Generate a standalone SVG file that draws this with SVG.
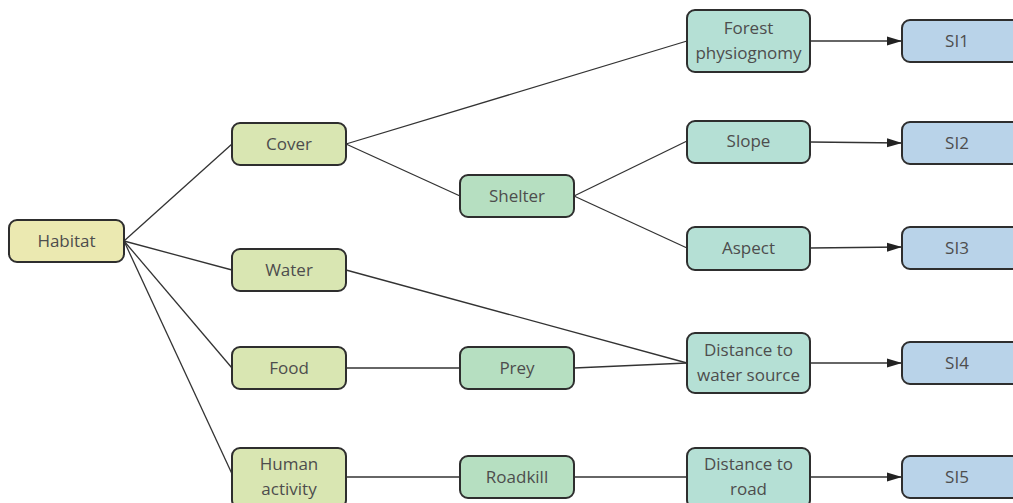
<svg xmlns="http://www.w3.org/2000/svg" width="1013" height="503" viewBox="0 0 1013 503">
<defs>
<marker id="arr" markerWidth="15" markerHeight="10" refX="15" refY="5" orient="auto" markerUnits="userSpaceOnUse">
<path d="M0,0.5 L15,5 L0,9.5 Z" fill="#222"/>
</marker>
<style>
.n rect{stroke:#2e2e2e;stroke-width:2}
.n text{font-family:"Open Sans","Noto Sans",sans-serif;font-size:17px;fill:#4d4d4d;text-anchor:middle}
.l1 rect{fill:#ebe9b1}
.l2 rect{fill:#d9e6b2}
.l3 rect{fill:#b6dfc1}
.l4 rect{fill:#b5e0d5}
.l5 rect{fill:#b9d3e9}
#edges line{stroke:#333;stroke-width:1.3;fill:none}
#edges line.a{marker-end:url(#arr)}
</style>
</defs>
<rect width="1013" height="503" fill="#fff"/>
<g id="edges">
<line x1="124" y1="241" x2="232" y2="144"/>
<line x1="124" y1="241" x2="232" y2="270"/>
<line x1="124" y1="241" x2="232" y2="368"/>
<line x1="124" y1="241" x2="233" y2="476"/>
<line x1="346" y1="144" x2="687" y2="41"/>
<line x1="346" y1="144" x2="460" y2="196"/>
<line x1="574" y1="196" x2="687" y2="141"/>
<line x1="574" y1="196" x2="687" y2="248"/>
<line x1="346" y1="270" x2="687" y2="363"/>
<line x1="346" y1="368" x2="460" y2="368"/>
<line x1="574" y1="368" x2="687" y2="363"/>
<line x1="346" y1="477" x2="460" y2="477"/>
<line x1="574" y1="477" x2="687" y2="477"/>
<line class="a" x1="810" y1="41" x2="902" y2="41"/>
<line class="a" x1="810" y1="142" x2="902" y2="143"/>
<line class="a" x1="810" y1="248" x2="902" y2="247"/>
<line class="a" x1="810" y1="363" x2="902" y2="363"/>
<line class="a" x1="810" y1="477" x2="902" y2="477"/>
</g>
<g id="habitat" class="n l1"><rect x="9" y="220" width="115" height="42" rx="8"/><text x="66.5" y="247">Habitat</text></g>
<g id="cover" class="n l2"><rect x="232" y="123" width="114" height="42" rx="8"/><text x="289" y="150">Cover</text></g>
<g id="water" class="n l2"><rect x="232" y="249" width="114" height="42" rx="8"/><text x="289" y="276">Water</text></g>
<g id="food" class="n l2"><rect x="232" y="347" width="114" height="42" rx="8"/><text x="289" y="374">Food</text></g>
<g id="human" class="n l2"><rect x="232" y="448" width="114" height="60" rx="8"/><text x="289" y="470">Human</text><text x="289" y="495">activity</text></g>
<g id="shelter" class="n l3"><rect x="460" y="175" width="114" height="42" rx="8"/><text x="517" y="202">Shelter</text></g>
<g id="prey" class="n l3"><rect x="460" y="347" width="114" height="42" rx="8"/><text x="517" y="374">Prey</text></g>
<g id="roadkill" class="n l3"><rect x="460" y="456" width="114" height="42" rx="8"/><text x="517" y="483">Roadkill</text></g>
<g id="forest" class="n l4"><rect x="687" y="10" width="123" height="62" rx="8"/><text x="748.5" y="34">Forest</text><text x="748.5" y="59">physiognomy</text></g>
<g id="slope" class="n l4"><rect x="687" y="121" width="123" height="42" rx="8"/><text x="748.5" y="147">Slope</text></g>
<g id="aspect" class="n l4"><rect x="687" y="227" width="123" height="43" rx="8"/><text x="748.5" y="254">Aspect</text></g>
<g id="dws" class="n l4"><rect x="687" y="333" width="123" height="60" rx="8"/><text x="748.5" y="356">Distance to</text><text x="748.5" y="381">water source</text></g>
<g id="dr" class="n l4"><rect x="687" y="448" width="123" height="60" rx="8"/><text x="748.5" y="470">Distance to</text><text x="748.5" y="495">road</text></g>
<g id="si1" class="n l5"><rect x="902" y="20" width="118" height="42" rx="8"/><text x="957" y="47">SI1</text></g>
<g id="si2" class="n l5"><rect x="902" y="122" width="118" height="42" rx="8"/><text x="957" y="149">SI2</text></g>
<g id="si3" class="n l5"><rect x="902" y="227" width="118" height="42" rx="8"/><text x="957" y="254">SI3</text></g>
<g id="si4" class="n l5"><rect x="902" y="342" width="118" height="42" rx="8"/><text x="957" y="369">SI4</text></g>
<g id="si5" class="n l5"><rect x="902" y="456" width="118" height="42" rx="8"/><text x="957" y="483">SI5</text></g>
</svg>
